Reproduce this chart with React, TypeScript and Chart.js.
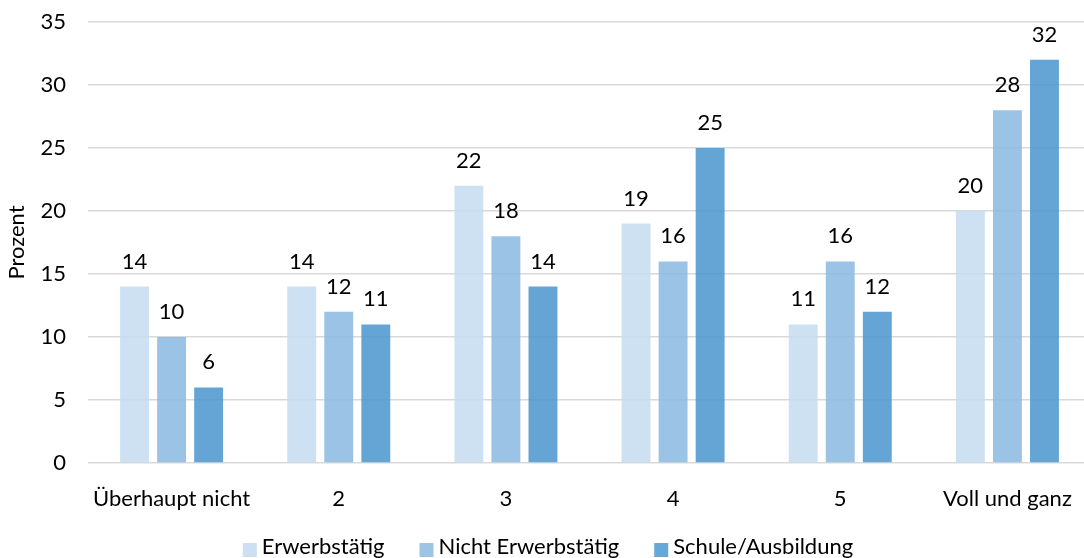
import React, { useEffect, useRef } from "react";
import { Chart, registerables } from "chart.js";

Chart.register(...registerables);

const categories = ["Überhaupt nicht", "2", "3", "4", "5", "Voll und ganz"];
const seriesNames = ["Erwerbstätig", "Nicht Erwerbstätig", "Schule/Ausbildung"];
const erwerbstaetig = [14, 14, 22, 19, 11, 20];
const nichtErwerbstaetig = [10, 12, 18, 16, 16, 28];
const schuleAusbildung = [6, 11, 14, 25, 12, 32];
const seriesColors = ["rgba(196,220,241,0.85)", "rgba(136,185,225,0.85)", "rgba(78,152,208,0.87)"];
const legendColors = ["#cce0f2", "#9cc4e5", "#66a8d8"];

const FONT = "Lato, 'Open Sans', sans-serif";
const FS = 22;

const valueLabels = {
  id: "valueLabels",
  afterDatasetsDraw(chart: any) {
    const ctx = chart.ctx;
    ctx.save();
    ctx.font = `${FS}px ${FONT}`;
    ctx.fillStyle = "#000";
    ctx.textAlign = "center";
    ctx.textBaseline = "alphabetic";
    chart.data.datasets.forEach((ds: any, i: number) => {
      const meta = chart.getDatasetMeta(i);
      meta.data.forEach((bar: any, j: number) => {
        ctx.fillText(String(ds.data[j]), bar.x, bar.y - 18);
      });
    });
    ctx.restore();
  },
};

const customLegend = {
  id: "customLegend",
  afterDraw(chart: any) {
    const ctx = chart.ctx;
    ctx.save();
    ctx.font = `${FS}px ${FONT}`;
    const box = 14;
    const gapText = 5;
    const gapItem = 35;
    const items = chart.data.datasets.map((ds: any, i: number) => ({
      label: ds.label,
      color: legendColors[i],
      w: ctx.measureText(ds.label).width,
    }));
    const total = items.reduce((s: number, it: any) => s + box + gapText + it.w, 0) + gapItem * (items.length - 1);
    let x = 548 - total / 2;
    const baseline = 554;
    ctx.textBaseline = "alphabetic";
    ctx.textAlign = "left";
    items.forEach((it: any) => {
      ctx.fillStyle = it.color;
      ctx.fillRect(x, 543, box, box);
      x += box + gapText;
      ctx.fillStyle = "#000";
      ctx.fillText(it.label, x, baseline);
      x += it.w + gapItem;
    });
    ctx.restore();
  },
};

export default function App() {
  const ref = useRef<HTMLCanvasElement>(null);
  useEffect(() => {
    document.body.style.margin = "0";
    const data = [erwerbstaetig, nichtErwerbstaetig, schuleAusbildung];
    const chart = new Chart(ref.current!, {
      type: "bar",
      data: {
        labels: categories,
        datasets: seriesNames.map((name, i) => ({
          label: name,
          data: data[i],
          backgroundColor: seriesColors[i],
          borderWidth: 0,
          categoryPercentage: 0.665,
          barPercentage: 0.78,
        })),
      },
      plugins: [valueLabels, customLegend],
      options: {
        animation: false,
        responsive: false,
        maintainAspectRatio: false,
        layout: { padding: { top: 22, right: 1, left: 0, bottom: 0 } },
        plugins: {
          legend: { display: false },
          tooltip: { enabled: false },
        },
        scales: {
          x: {
            grid: { display: false },
            border: { display: false },
            ticks: { font: { family: FONT, size: FS }, color: "#000", padding: 15 },
            afterFit(scale: any) {
              scale.height = 95;
            },
          },
          y: {
            min: 0,
            max: 35,
            ticks: { stepSize: 5, font: { family: FONT, size: FS }, color: "#000", padding: 22 },
            grid: { color: "#d9d9d9", lineWidth: 1.5, drawTicks: false },
            border: { display: false },
            title: {
              display: true,
              text: "Prozent",
              font: { family: FONT, size: FS },
              color: "#000",
              padding: { top: 4, bottom: 0 },
            },
            afterFit(scale: any) {
              scale.width = 88;
              scale.paddingTop = 0;
              scale.paddingBottom = 0;
            },
          },
        },
      },
    });
    return () => chart.destroy();
  }, []);
  return (
    <div style={{ width: 1084, height: 558, overflow: "hidden" }}>
      <canvas ref={ref} width={1092} height={558} style={{ display: "block" }} />
    </div>
  );
}
